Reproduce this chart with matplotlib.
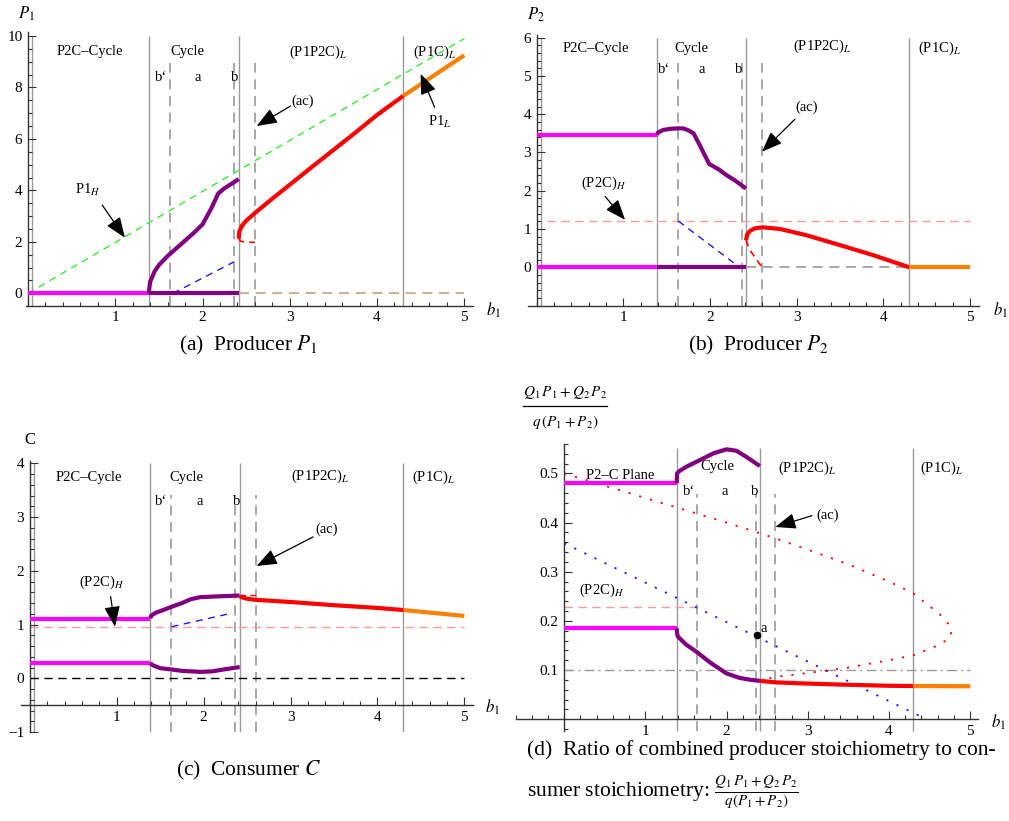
import numpy as np
import matplotlib.pyplot as plt
from matplotlib.ticker import FixedLocator, MultipleLocator
from matplotlib.lines import Line2D

plt.rcParams['font.family'] = ['Liberation Serif', 'DejaVu Serif']
plt.rcParams['mathtext.fontset'] = 'stix'

W, H = 1009, 821

MAG = '#ff00ff'
PUR = '#800080'
RED = '#ff0000'
ORA = '#ff8000'
GRAY = '#9a9a9a'

# region boundaries along b1
bounds_solid = [0.05, 1.385, 2.415, 4.30]
bounds_dashed = [1.63, 2.365, 2.60]

# ---- (a) producer P1
a_mag_x = [0.0, 1.385]
a_mag_y = [0.0, 0.0]
a_cyc_hi_x = [1.385, 1.39, 1.40, 1.45, 1.50, 1.60, 1.70, 1.80, 1.90, 2.00, 2.10, 2.18, 2.25, 2.33, 2.415]
a_cyc_hi_y = [0.0, 0.2, 0.45, 0.85, 1.10, 1.45, 1.75, 2.05, 2.35, 2.68, 3.30, 3.88, 4.08, 4.25, 4.44]
a_cyc_lo_x = [1.385, 2.415]
a_cyc_lo_y = [0.0, 0.0]
a_red_x = [2.415, 2.42, 2.45, 2.50, 2.60, 2.70, 2.80, 3.00, 3.25, 3.50, 3.75, 4.00, 4.30]
a_red_y = [2.12, 2.38, 2.62, 2.82, 3.12, 3.40, 3.68, 4.22, 4.90, 5.57, 6.24, 6.93, 7.67]
a_red_dash_x = [2.415, 2.44, 2.50, 2.60]
a_red_dash_y = [2.12, 2.02, 1.99, 1.98]
a_ora_x = [4.30, 5.0]
a_ora_y = [7.67, 9.25]
a_green_x = [0.0, 5.0]
a_green_y = [0.0, 9.9]
a_blue_x = [1.66, 2.365]
a_blue_y = [0.0, 1.23]
a_zero_x = [2.415, 5.0]
a_zero_y = [0.0, 0.0]

# ---- (b) producer P2
b_mag_x = [0.0, 1.385]
b_mag_hi_y = [3.46, 3.46]
b_mag_lo_y = [0.02, 0.02]
b_cyc_hi_x = [1.385, 1.40, 1.46, 1.55, 1.634, 1.69, 1.75, 1.81, 1.88, 1.99, 2.10, 2.19, 2.30, 2.415]
b_cyc_hi_y = [3.47, 3.52, 3.59, 3.62, 3.63, 3.63, 3.58, 3.50, 3.20, 2.70, 2.56, 2.41, 2.25, 2.06]
b_cyc_lo_x = [1.385, 2.415]
b_cyc_lo_y = [0.0, 0.0]
b_blue_x = [1.634, 2.33]
b_blue_y = [1.21, 0.02]
b_pink_x = [0.12, 5.0]
b_pink_y = [1.22, 1.22]
b_zero_x = [2.415, 4.30]
b_zero_y = [0.0, 0.0]
b_red_x = [2.415, 2.43, 2.46, 2.52, 2.61, 2.81, 3.11, 3.50, 3.88, 4.30]
b_red_y = [0.71, 0.86, 0.95, 1.02, 1.045, 1.00, 0.84, 0.58, 0.32, 0.0]
b_red_dash_x = [2.415, 2.46, 2.60]
b_red_dash_y = [0.71, 0.45, 0.0]
b_ora_x = [4.30, 5.0]
b_ora_y = [0.0, 0.0]

# ---- (c) consumer C
c_mag_x = [0.0, 1.386]
c_mag_hi_y = [1.10, 1.10]
c_mag_lo_y = [0.29, 0.29]
c_cyc_hi_x = [1.386, 1.40, 1.45, 1.55, 1.63, 1.75, 1.85, 1.96, 2.10, 2.25, 2.415]
c_cyc_hi_y = [1.12, 1.17, 1.22, 1.28, 1.33, 1.40, 1.47, 1.51, 1.52, 1.53, 1.54]
c_cyc_lo_x = [1.386, 1.42, 1.50, 1.60, 1.75, 1.96, 2.10, 2.25, 2.415]
c_cyc_lo_y = [0.28, 0.24, 0.19, 0.17, 0.14, 0.12, 0.13, 0.17, 0.21]
c_blue_x = [1.63, 2.32]
c_blue_y = [0.96, 1.21]
c_pink_x = [0.0, 5.0]
c_pink_y = [0.96, 0.96]
c_zero_x = [0.0, 5.0]
c_zero_y = [0.0, 0.0]
c_red_x = [2.415, 2.50, 2.60, 3.00, 3.50, 4.00, 4.30]
c_red_y = [1.52, 1.48, 1.46, 1.42, 1.36, 1.31, 1.27]
c_red_dash_x = [2.42, 2.60]
c_red_dash_y = [1.55, 1.55]
c_ora_x = [4.30, 5.0]
c_ora_y = [1.27, 1.16]

# ---- (d) ratio of stoichiometries
d_mag_x = [0.0, 1.385]
d_mag_hi_y = [0.48, 0.48]
d_mag_lo_y = [0.185, 0.185]
d_cyc_hi_x = [1.385, 1.39, 1.42, 1.51, 1.67, 1.84, 2.00, 2.12, 2.24, 2.41]
d_cyc_hi_y = [0.48, 0.50, 0.505, 0.514, 0.527, 0.541, 0.549, 0.546, 0.534, 0.515]
d_cyc_lo_x = [1.385, 1.39, 1.40, 1.50, 1.63, 1.80, 2.00, 2.16, 2.30, 2.41]
d_cyc_lo_y = [0.185, 0.175, 0.168, 0.152, 0.137, 0.115, 0.093, 0.084, 0.080, 0.078]
d_red_x = [2.41, 2.60, 2.90, 3.50, 4.00, 4.30]
d_red_y = [0.078, 0.075, 0.073, 0.070, 0.068, 0.0675]
d_ora_x = [4.30, 5.0]
d_ora_y = [0.0675, 0.067]
d_loop_x = [0.0, 1.0, 2.0, 2.6, 3.0, 3.5, 4.0, 4.3, 4.5, 4.65, 4.75, 4.77, 4.75, 4.6, 4.3, 4.0, 3.5, 3.0, 2.6, 2.41]
d_loop_y = [0.50, 0.45, 0.40, 0.368, 0.345, 0.315, 0.28, 0.256, 0.23, 0.21, 0.19, 0.18, 0.165, 0.15, 0.13, 0.12, 0.105, 0.094, 0.086, 0.078]
d_blue_x = [0.0, 4.46]
d_blue_y = [0.358, 0.0]
d_pink_x = [0.0, 1.63]
d_pink_y = [0.229, 0.229]
d_ref_x = [0.0, 5.0]
d_ref_y = [0.1, 0.1]
d_point = (2.37, 0.171)

fig = plt.figure(figsize=(W / 100, H / 100), dpi=100)


def panel(box, xlim, ylim, ycross, yticks, yminor):
    l, t, r, b = box
    ax = fig.add_axes([l / W, 1 - b / H, (r - l) / W, (b - t) / H])
    ax.set_xlim(xlim)
    ax.set_ylim(ylim)
    ax.patch.set_alpha(0)
    ax.spines['top'].set_visible(False)
    ax.spines['right'].set_visible(False)
    ax.spines['left'].set_position(('data', 0))
    ax.spines['bottom'].set_position(('data', ycross))
    for s in ['left', 'bottom']:
        ax.spines[s].set_color('#333333')
        ax.spines[s].set_linewidth(1.0)
    ax.xaxis.set_major_locator(FixedLocator([1, 2, 3, 4, 5]))
    ax.xaxis.set_minor_locator(MultipleLocator(0.2))
    ax.yaxis.set_major_locator(FixedLocator(yticks))
    ax.yaxis.set_minor_locator(MultipleLocator(yminor))
    ax.tick_params(which='both', direction='in', color='#333333', width=0.8, labelsize=11, pad=4)
    ax.tick_params(which='major', length=6)
    ax.tick_params(which='minor', length=3)
    return ax


def regions(ax, top, dash_top, bottom, first=True):
    xs = bounds_solid if first else bounds_solid[1:]
    ax.vlines(xs, bottom, top, color=GRAY, lw=1.0, zorder=1)
    ax.vlines(bounds_dashed, bottom, dash_top, color=GRAY, lw=1.2, linestyles=(0, (6, 4)), zorder=1)


def arrow(ax, tail, head):
    ax.annotate('', xy=head, xytext=tail,
                arrowprops=dict(arrowstyle='-|>,head_length=0.9,head_width=0.35', color='black',
                                lw=0.9, shrinkA=0, shrinkB=0, mutation_scale=14), zorder=6)


def labels(ax, ys_top, y_sub, xs_top, xs_sub, top_names):
    for x, y, name in zip(xs_top, ys_top, top_names):
        ax.text(x, y, name, ha='center', va='center', fontsize=10.5, zorder=5)
    for x, name in zip(xs_sub, ['b‘', 'a', 'b']):
        ax.text(x, y_sub, name, ha='center', va='center', fontsize=10.5, zorder=5)


names = ['P2C–Cycle', 'Cycle', '(P1P2C)$_L$', '(P1C)$_L$']

# ---------------- (a)
ax = panel((26.3, 32.1, 473, 305.7), (-0.02, 5.1), (-0.48, 10.15), -0.48, [0, 2, 4, 6, 8, 10], 0.5)
regions(ax, 10.0, 8.95, -0.48)
ax.plot(a_green_x, a_green_y, color='#33ee33', lw=1.0, ls=(0, (5, 4)), zorder=2)
ax.plot(a_blue_x, a_blue_y, color='#1a1aff', lw=1.0, ls=(0, (5, 4)), zorder=2)
ax.plot(a_zero_x, a_zero_y, color='#c8a27c', lw=1.2, ls=(0, (6, 4)), zorder=2)
ax.plot(a_red_dash_x, a_red_dash_y, color=RED, lw=1.2, ls=(0, (4, 3)), zorder=3)
ax.plot(a_mag_x, a_mag_y, color=MAG, lw=3, solid_capstyle='butt', zorder=4)
ax.plot(a_cyc_lo_x, a_cyc_lo_y, color=PUR, lw=3, solid_capstyle='butt', zorder=4)
ax.plot(a_cyc_hi_x, a_cyc_hi_y, color=PUR, lw=3, solid_capstyle='butt', zorder=4)
ax.plot(a_red_x, a_red_y, color=RED, lw=3, solid_capstyle='butt', zorder=4)
ax.plot(a_ora_x, a_ora_y, color=ORA, lw=3, solid_capstyle='butt', zorder=4)
labels(ax, [9.38] * 4, 8.37, [0.71, 1.83, 3.33, 4.66], [1.53, 1.94, 2.37], names)
ax.text(3.15, 7.45, '(ac)', ha='center', va='center', fontsize=10.5)
arrow(ax, (3.01, 7.28), (2.62, 6.5))
ax.text(0.69, 4.02, 'P1$_H$', ha='center', va='center', fontsize=10.5)
arrow(ax, (0.85, 3.43), (1.11, 2.16))
ax.text(4.72, 6.66, 'P1$_L$', ha='center', va='center', fontsize=10.5)
arrow(ax, (4.66, 7.23), (4.50, 8.53))

# ---------------- (b)
ax = panel((528, 34.6, 978.7, 305.6), (-0.1, 5.1), (-1.0, 6.08), -1.0, [0, 1, 2, 3, 4, 5, 6], 0.2)
regions(ax, 6.0, 5.33, -1.0)
ax.plot(b_pink_x, b_pink_y, color='#ff9a9a', lw=1.0, ls=(0, (6, 4)), zorder=2)
ax.plot(b_blue_x, b_blue_y, color='#1a1aff', lw=1.0, ls=(0, (5, 4)), zorder=2)
ax.plot(b_zero_x, b_zero_y, color=GRAY, lw=1.2, ls=(0, (6, 4)), zorder=2)
ax.plot(b_red_dash_x, b_red_dash_y, color=RED, lw=1.2, ls=(0, (4, 3)), zorder=3)
ax.plot(b_mag_x, b_mag_hi_y, color=MAG, lw=3, solid_capstyle='butt', zorder=4)
ax.plot(b_mag_x, b_mag_lo_y, color=MAG, lw=3, solid_capstyle='butt', zorder=4)
ax.plot(b_cyc_hi_x, b_cyc_hi_y, color=PUR, lw=3, solid_capstyle='butt', zorder=4)
ax.plot(b_cyc_lo_x, b_cyc_lo_y, color=PUR, lw=3, solid_capstyle='butt', zorder=4)
ax.plot(b_red_x, b_red_y, color=RED, lw=3, solid_capstyle='butt', zorder=4)
ax.plot(b_ora_x, b_ora_y, color=ORA, lw=3, solid_capstyle='butt', zorder=4)
labels(ax, [5.72, 5.72, 5.78, 5.72], 5.16, [0.68, 1.79, 3.29, 4.65], [1.47, 1.90, 2.33], names)
ax.text(3.12, 4.18, '(ac)', ha='center', va='center', fontsize=10.5)
arrow(ax, (2.98, 3.87), (2.60, 3.02))
ax.text(0.77, 2.19, '(P2C)$_H$', ha='center', va='center', fontsize=10.5)
arrow(ax, (0.79, 1.85), (1.02, 1.24))

# ---------------- (c)
ax = panel((21.1, 460.6, 473, 732.1), (-0.1, 5.1), (-1.0, 4.05), -0.5, [-1, 0, 1, 2, 3, 4], 0.2)
regions(ax, 4.0, 3.41, -1.0)
ax.plot(c_pink_x, c_pink_y, color='#ff9a9a', lw=1.0, ls=(0, (6, 4)), zorder=2)
ax.plot(c_zero_x, c_zero_y, color='black', lw=1.0, ls=(0, (6, 4)), zorder=2)
ax.plot(c_blue_x, c_blue_y, color='#1a1aff', lw=1.0, ls=(0, (5, 4)), zorder=2)
ax.plot(c_red_dash_x, c_red_dash_y, color=RED, lw=1.0, ls=(0, (4, 3)), zorder=3)
ax.plot(c_mag_x, c_mag_hi_y, color=MAG, lw=3, solid_capstyle='butt', zorder=4)
ax.plot(c_mag_x, c_mag_lo_y, color=MAG, lw=3, solid_capstyle='butt', zorder=4)
ax.plot(c_cyc_hi_x, c_cyc_hi_y, color=PUR, lw=3, solid_capstyle='butt', zorder=4)
ax.plot(c_cyc_lo_x, c_cyc_lo_y, color=PUR, lw=3, solid_capstyle='butt', zorder=4)
ax.plot(c_red_x, c_red_y, color=RED, lw=3, solid_capstyle='butt', zorder=4)
ax.plot(c_ora_x, c_ora_y, color=ORA, lw=3, solid_capstyle='butt', zorder=4)
labels(ax, [3.74, 3.74, 3.75, 3.74], 3.29, [0.68, 1.80, 3.34, 4.64], [1.51, 1.96, 2.38], names)
ax.text(3.41, 2.78, '(ac)', ha='center', va='center', fontsize=10.5)
arrow(ax, (3.26, 2.63), (2.61, 2.09))
ax.text(0.83, 1.78, '(P2C)$_H$', ha='center', va='center', fontsize=10.5)
arrow(ax, (0.93, 1.52), (0.98, 0.96))

# ---------------- (d)
ax = panel((515.5, 443.9, 978.3, 731.5), (-0.6, 5.1), (-0.025, 0.56), 0.0, [0.1, 0.2, 0.3, 0.4, 0.5], 0.02)
regions(ax, 0.551, 0.459, -0.025, first=False)
ax.plot(d_ref_x, d_ref_y, color=GRAY, lw=1.0, ls=(0, (7, 3, 1.5, 3)), zorder=2)
ax.plot(d_pink_x, d_pink_y, color='#ff9a9a', lw=1.0, ls=(0, (6, 4)), zorder=2)
ax.plot(d_blue_x, d_blue_y, color='#1a1aff', lw=1.3, ls=(0, (1.2, 5)), zorder=2)
ax.plot(d_loop_x, d_loop_y, color=RED, lw=1.3, ls=(0, (1.2, 5)), zorder=2)
ax.plot(d_mag_x, d_mag_hi_y, color=MAG, lw=3, solid_capstyle='butt', zorder=4)
ax.plot(d_mag_x, d_mag_lo_y, color=MAG, lw=3, solid_capstyle='butt', zorder=4)
ax.plot(d_cyc_hi_x, d_cyc_hi_y, color=PUR, lw=3, solid_capstyle='butt', zorder=4)
ax.plot(d_cyc_lo_x, d_cyc_lo_y, color=PUR, lw=3, solid_capstyle='butt', zorder=4)
ax.plot(d_red_x, d_red_y, color=RED, lw=3, solid_capstyle='butt', zorder=4)
ax.plot(d_ora_x, d_ora_y, color=ORA, lw=3, solid_capstyle='butt', zorder=4)
ax.plot([d_point[0]], [d_point[1]], 'o', color='black', ms=4.5, zorder=5)
ax.text(d_point[0] + 0.05, d_point[1] + 0.014, 'a', ha='left', va='center', fontsize=10.5)
labels(ax, [0.495, 0.515, 0.51, 0.51], 0.463, [0.69, 1.89, 2.99, 4.65], [1.54, 1.98, 2.35],
       ['P2–C Plane', 'Cycle', '(P1P2C)$_L$', '(P1C)$_L$'])
ax.text(3.25, 0.414, '(ac)', ha='center', va='center', fontsize=10.5)
arrow(ax, (3.05, 0.414), (2.60, 0.391))
ax.text(0.46, 0.263, '(P2C)$_H$', ha='center', va='center', fontsize=10.5)

# ---------------- axis labels
def ftxt(x, y, s, **kw):
    fig.text(x / W, 1 - y / H, s, ha='center', va='center', **kw)

ftxt(26.7, 14, '$P_1$', fontsize=12)
ftxt(536, 15, '$P_2$', fontsize=12)
ftxt(30, 440, 'C', fontsize=12)
ftxt(493, 310, '$b_1$', fontsize=12)
ftxt(1000, 310, '$b_1$', fontsize=12)
ftxt(492, 707, '$b_1$', fontsize=12)
ftxt(998, 722, '$b_1$', fontsize=12)
ftxt(565, 392, '$Q_1\\,P_1+Q_2\\,P_2$', fontsize=11)
fig.add_artist(Line2D([523 / W, 607 / W], [1 - 406 / H, 1 - 406 / H], color='black', lw=0.9))
ftxt(565, 422, '$q\\,(P_1+P_2)$', fontsize=11)

# ---------------- captions
ftxt(248, 345, '(a)  Producer $P_1$', fontsize=15.5)
ftxt(759, 345, '(b)  Producer $P_2$', fontsize=15.5)
ftxt(249, 770, '(c)  Consumer $C$', fontsize=15.5)
fig.text(527 / W, 1 - 750 / H, '(d)  Ratio of combined producer stoichiometry to con-',
         ha='left', va='center', fontsize=15.5)
fig.text(527 / W, 1 - 792 / H, 'sumer stoichiometry: $\\frac{Q_1\\,P_1+Q_2\\,P_2}{q(P_1+P_2)}$',
         ha='left', va='center', fontsize=15.5)

fig.savefig('out.png', dpi=100)
